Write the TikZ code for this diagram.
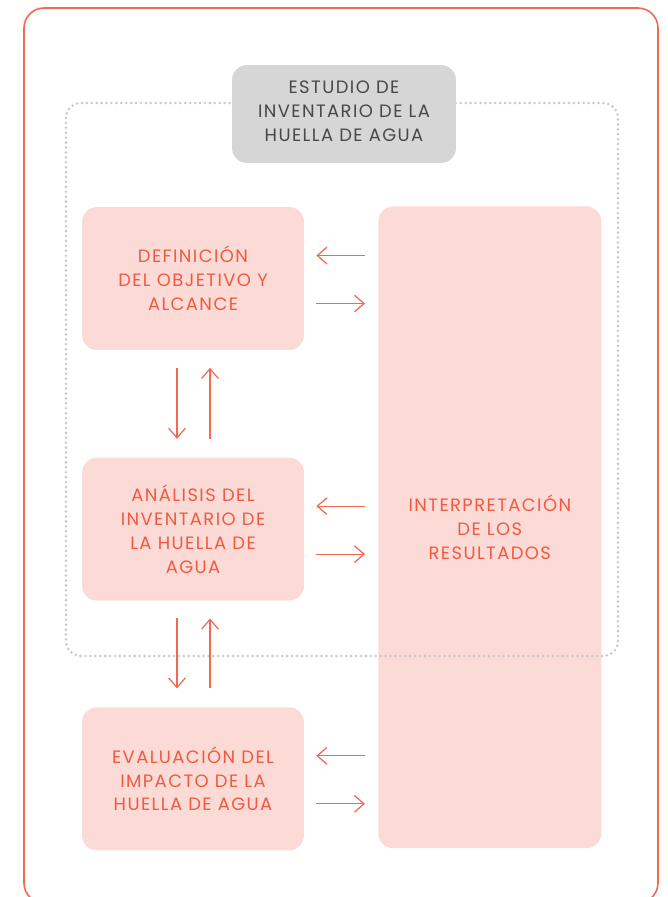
\documentclass[tikz,border=0pt]{standalone}
\usepackage{fontspec}
\setmainfont{Poppins}[LetterSpace=8]
\usepackage{tikz}
\usetikzlibrary{arrows.meta, positioning, calc}
\definecolor{frameorange}{RGB}{242,104,80}
\definecolor{boxpink}{RGB}{252,218,213}
\definecolor{textorange}{RGB}{240,90,66}
\definecolor{boxgray}{RGB}{214,214,214}
\definecolor{textgray}{RGB}{72,72,72}
\definecolor{dotgray}{RGB}{200,200,200}

\begin{document}
\begin{tikzpicture}[
  x=0.02cm, y=-0.02cm,
  every node/.style={align=center, inner sep=0pt, font=\fontsize{10.2}{13.6}\selectfont},
  stage/.style={fill=boxpink, rounded corners=0.3cm, text=textorange, minimum width=4.44cm, minimum height=2.86cm},
  result/.style={fill=boxpink, rounded corners=0.3cm, text=textorange, minimum width=4.46cm, minimum height=12.84cm},
  study/.style={fill=boxgray, rounded corners=0.3cm, text=textgray, minimum width=4.48cm, minimum height=1.96cm},
  frame/.style={draw=frameorange, line width=0.9pt, rounded corners=0.4cm},
  limit/.style={draw=dotgray, line width=1.6pt, line cap=round, dash pattern=on 0pt off 2.8pt, rounded corners=0.3cm},
  arr/.style={-{Straight Barb[length=5.5pt, width=9.5pt]}, draw=frameorange, line width=0.7pt}
]
  \useasboundingbox (0,0) rectangle (668,897);
  \draw[frame] (24,8) rectangle (658,903);

  % stages on the left
  \node[stage] (def) at (193,278.5) {DEFINICIÓN\\DEL OBJETIVO Y\\ALCANCE};
  \node[stage, below=2.14cm of def] (ana) {ANÁLISIS DEL\\INVENTARIO DE\\LA HUELLA DE\\AGUA};
  \node[stage, below=2.12cm of ana] (eva) {EVALUACIÓN DEL\\IMPACTO DE LA\\HUELLA DE AGUA};

  % interpretation column
  \node[result, anchor=north west] (interp) at (378,206) {INTERPRETACIÓN\\DE LOS\\RESULTADOS};

  % scope of the inventory study
  \draw[limit] (66,103) rectangle (618,656);
  \node[study, text depth=0.12cm] (study) at (344,114) {ESTUDIO DE\\INVENTARIO DE LA\\HUELLA DE AGUA};

  % links to the interpretation
  \foreach \b in {def,ana,eva} {
    \coordinate (\b-in) at ($(\b.east)+(0,0.46cm)$);
    \coordinate (\b-out) at ($(\b.east)+(0,-0.5cm)$);
    \draw[arr, shorten <=0.26cm, shorten >=0.24cm] (\b-in -| interp.west) -- (\b-in);
    \draw[arr, shorten <=0.24cm, shorten >=0.26cm] (\b-out) -- (\b-out -| interp.west);
  }

  % links between stages
  \foreach \a/\b in {def/ana, ana/eva} {
    \draw[arr, shorten <=0.35cm, shorten >=0.37cm] ([xshift=-0.32cm]\a.south) -- ([xshift=-0.32cm]\b.north);
    \draw[arr, shorten <=0.37cm, shorten >=0.35cm] ([xshift=0.34cm]\b.north) -- ([xshift=0.34cm]\a.south);
  }
\end{tikzpicture}
\end{document}
